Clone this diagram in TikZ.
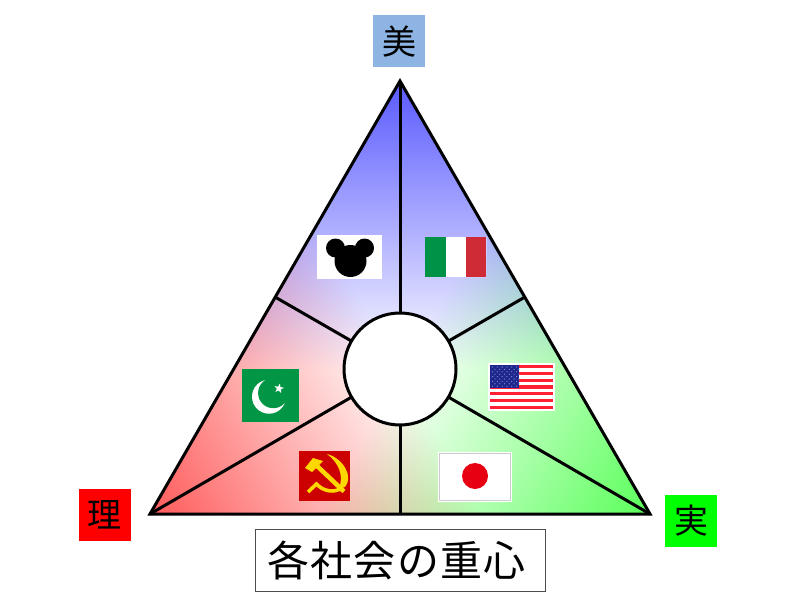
\documentclass[tikz,border=0pt]{standalone}
\usepackage{fontspec}
\usetikzlibrary{shapes.geometric}
\newfontfamily\cjk{Noto Sans CJK JP}
\newfontfamily\cjktitle[LetterSpace=3]{Noto Sans CJK JP}
\definecolor{beautyblue}{RGB}{141,180,226}
\definecolor{itgreen}{RGB}{0,146,70}
\definecolor{itred}{RGB}{206,43,55}
\definecolor{usred}{RGB}{255,32,52}
\definecolor{usblue}{RGB}{30,40,140}
\definecolor{usstar}{RGB}{130,140,215}
\definecolor{pkgreen}{RGB}{1,150,70}
\definecolor{sured}{RGB}{204,0,0}
\definecolor{sugold}{RGB}{255,215,0}
\definecolor{jpred}{RGB}{230,0,18}
\pgfdeclarefunctionalshading{barytri}{\pgfpoint{0bp}{0bp}}{\pgfpoint{800bp}{600bp}}{}{
86 sub 434 div
exch 400 sub 250 div
1 index 1 exch sub
dup 2 index add 2 div
exch 2 index sub 2 div
3 mul 1 sub 2 div dup 0 lt { pop 0 } if
exch 3 mul 1 sub 2 div dup 0 lt { pop 0 } if
3 -1 roll pop
3 -1 roll 3 mul 1 sub 2 div dup 0 lt { pop 0 } if
1 index 1 index add 0.65 mul 1 exch sub
1 index 4 index add 0.65 mul 1 exch sub
3 index 5 index add 0.65 mul 1 exch sub
6 3 roll pop pop pop
}
\tikzset{
  spoke/.style={draw=black,line width=3bp},
  labelbox/.style={minimum width=52bp,minimum height=52bp,inner sep=0pt,font=\cjk\fontsize{34bp}{34bp}\selectfont},
}
\begin{document}
\begin{tikzpicture}[x=1bp,y=-1bp]
\useasboundingbox (0,0) rectangle (800,600);
\coordinate (T) at (400,81);
\coordinate (L) at (150,514);
\coordinate (R) at (650,514);
\coordinate (ML) at (275,297);
\coordinate (MR) at (525,297);
\coordinate (B) at (400,514);
\coordinate (C) at (400,369);
\begin{scope}
  \clip (T) -- (L) -- (R) -- cycle;
  \node[inner sep=0pt,outer sep=0pt,anchor=south west] (shade) at (0,600) {\pgfuseshading{barytri}};
\end{scope}
\foreach \p in {T,L,R,ML,MR,B} \draw[spoke] (C) -- (\p);
\draw[spoke,miter limit=10] (T) -- (L) -- (R) -- cycle;
\node[circle,draw=black,line width=3bp,fill=white,minimum size=112bp,inner sep=0pt] (hub) at (C) {};
% Mickey
\fill[white] (317,235) rectangle (382,279);
\fill[black] (350.5,261) circle (16) (335.5,248) circle (9.5) (364.5,248) circle (9.5);
% Italy
\fill[white!80!blue] (424.5,236.5) rectangle (486.5,277.5);
\fill[itgreen] (425,237) rectangle (445.5,277);
\fill[white] (445.5,237) rectangle (466,277);
\fill[itred] (466,237) rectangle (486,277);
% USA
\fill[white] (488,363) rectangle (555,411);
\foreach \i in {0,2,...,12}
  \fill[usred] (490,365+\i*3.385) rectangle (553,365+\i*3.385+3.385);
\fill[usblue] (490,365) rectangle (519,388);
\foreach \r in {0,...,8}
  \foreach \c in {0,...,5}
    \fill[usstar] ({492.5+\c*4.8+mod(\r,2)*2.4},{367+\r*2.4}) circle (0.65);
% Pakistan
\fill[pkgreen] (242,369) rectangle (299,422);
\fill[white] (269,396.7) circle (17);
\fill[pkgreen] (273.3,393) circle (15.2);
\node[star,star points=5,star point ratio=2.4,fill=white,inner sep=0pt,minimum size=10bp,rotate=-10] (crescentstar) at (279,388.5) {};
% USSR
\fill[sured] (299,451) rectangle (350,501);
\fill[sugold] (305,468) -- (313,458) -- (323,461) -- (312,472) -- cycle;
\draw[sugold,line width=4.5bp] (315,464) -- (344,491.5);
\fill[sugold] (327,454) .. controls (343,458) and (354,477) .. (345,487) -- (339,488)
  .. controls (344,476) and (339,463) .. cycle;
\draw[sugold,line width=3.6bp] (308,492) -- (316.5,484) .. controls (322,490) and (331,493) .. (339,489.5) -- (344,484);
% Japan
\fill[white] (438,452) rectangle (512,502);
\draw[black!20,line width=1bp] (439.5,453) rectangle (510.5,500.5);
\fill[jpred] (475,476) circle (13);
% labels
\node[labelbox,fill=beautyblue] (bi) at (399,41.5) {美};
\node[labelbox,fill=red] (ri) at (104.5,514.5) {理};
\node[labelbox,fill=green] (ji) at (691,521) {実};
\node[draw=black!70,line width=1bp,fill=white,minimum width=290bp,minimum height=62bp,inner sep=0pt,
  font=\cjktitle\fontsize{42bp}{42bp}\selectfont] (title) at (400,560) {各社会の重心\hspace{7bp}\mbox{}};
\end{tikzpicture}
\end{document}
